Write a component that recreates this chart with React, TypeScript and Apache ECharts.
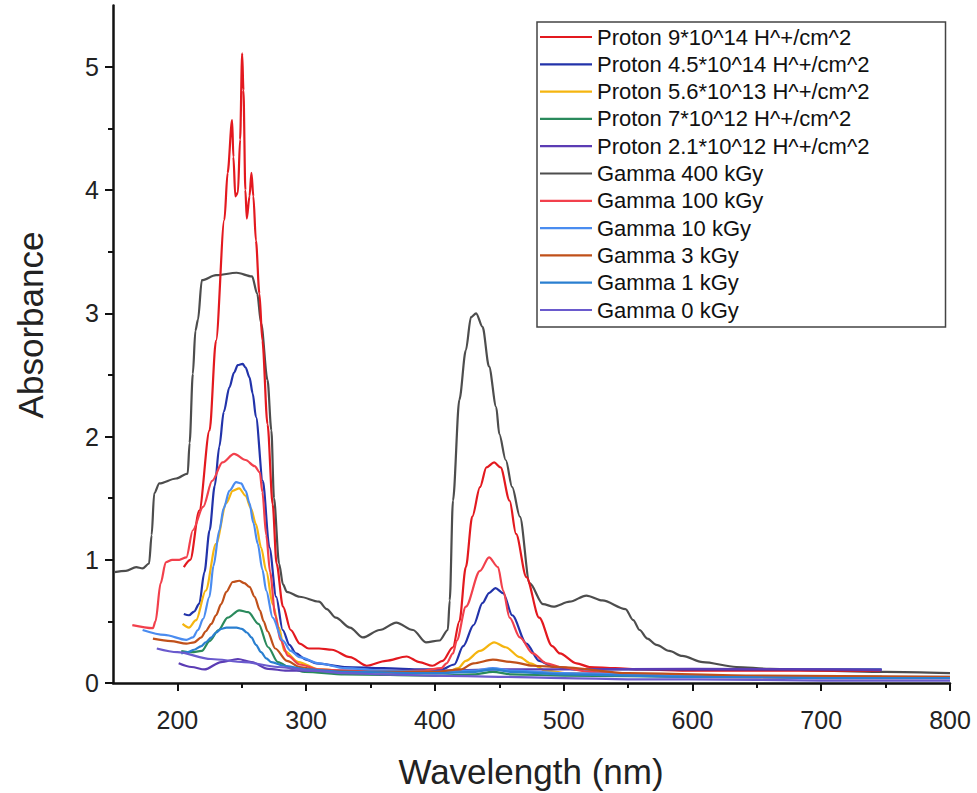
import React, { useEffect, useRef } from "react";
import * as echarts from "echarts";

// ---- Data (wavelength nm / absorbance) ----
const p914X = [205, 210, 217, 225, 230, 236.5, 239, 242.5, 243.5, 245, 247, 248.7, 250.3, 251.3, 252.8, 253.9, 256, 257.5, 259, 261, 263.7, 266, 270, 274, 277, 282, 288, 295, 302, 310, 320, 334, 347, 362, 378, 388, 398, 406, 414, 419, 424, 429, 435, 440, 446, 451, 458, 463, 471, 481, 491, 497, 510, 520, 540, 560, 600, 650, 700, 746];
const p914Y = [0.94, 1.0, 1.4, 2.05, 2.78, 3.76, 4.14, 4.57, 4.27, 3.95, 3.98, 4.41, 5.11, 4.81, 4.0, 3.77, 3.95, 4.14, 3.95, 3.59, 3.16, 2.78, 2.1, 1.45, 0.97, 0.62, 0.43, 0.32, 0.28, 0.28, 0.27, 0.21, 0.14, 0.18, 0.215, 0.17, 0.14, 0.18, 0.29, 0.5, 0.94, 1.35, 1.59, 1.75, 1.79, 1.75, 1.48, 1.21, 0.86, 0.53, 0.3, 0.24, 0.16, 0.13, 0.12, 0.11, 0.1, 0.1, 0.1, 0.1];

const p4514X = [205, 209, 213, 217, 221, 225, 229, 232.6, 236, 240.4, 244, 246.9, 250.7, 253, 256, 258.5, 261, 266.3, 271.5, 276.7, 281.8, 287, 292, 300, 308, 330, 360, 390, 405, 415, 422, 430, 437, 442, 447, 453, 460, 471, 481, 492, 510, 550, 650, 747];
const p4514Y = [0.56, 0.55, 0.58, 0.645, 0.9, 1.24, 1.6, 1.92, 2.2, 2.4, 2.52, 2.58, 2.59, 2.56, 2.48, 2.35, 2.16, 1.64, 1.1, 0.7, 0.43, 0.31, 0.24, 0.19, 0.16, 0.13, 0.12, 0.11, 0.11, 0.15, 0.3, 0.47, 0.65, 0.73, 0.77, 0.73, 0.55, 0.32, 0.18, 0.13, 0.11, 0.11, 0.11, 0.11];

const p5613X = [204, 209, 214.5, 222, 230, 238, 243, 248, 253, 257, 261, 265, 269, 274, 279, 283, 294, 310, 340, 380, 410, 418, 424, 435, 446, 455, 466, 474, 486.5, 502, 550, 650, 747];
const p5613Y = [0.48, 0.45, 0.51, 0.75, 1.13, 1.46, 1.56, 1.58, 1.52, 1.42, 1.29, 1.1, 0.91, 0.64, 0.45, 0.26, 0.17, 0.11, 0.09, 0.08, 0.09, 0.12, 0.18, 0.26, 0.33, 0.29, 0.21, 0.16, 0.1, 0.08, 0.06, 0.05, 0.05];

const p712X = [203, 211, 219, 225, 232, 239, 248, 255, 263, 270.5, 278, 289, 299, 330, 400, 430, 445, 460, 500, 600, 747];
const p712Y = [0.26, 0.25, 0.26, 0.34, 0.43, 0.53, 0.59, 0.575, 0.48, 0.29, 0.17, 0.115, 0.09, 0.07, 0.06, 0.07, 0.09, 0.07, 0.06, 0.05, 0.05];

const p2112X = [201, 211, 221, 234, 247, 257.5, 270.5, 285, 300, 350, 400, 450, 500, 600, 700, 747];
const p2112Y = [0.16, 0.13, 0.11, 0.17, 0.195, 0.17, 0.115, 0.1, 0.1, 0.1, 0.1, 0.11, 0.11, 0.115, 0.11, 0.105];

const g400X = [151, 160, 168, 173, 178, 180, 182, 186, 199, 208, 209.5, 212, 214, 216, 219, 230, 246, 258, 262, 265, 270, 273, 275, 279, 282, 285, 295, 310, 316, 323, 334, 344, 357, 370, 383, 393, 403.6, 410, 411.5, 414, 419, 424, 428, 432, 437, 442, 447.6, 450, 455, 460, 466, 473.5, 484, 492, 504.6, 517.6, 530, 548, 554, 559, 565, 572, 582, 592, 608, 634, 660, 700, 750, 800];
const g400Y = [0.9, 0.91, 0.94, 0.93, 0.97, 1.2, 1.54, 1.62, 1.66, 1.7, 1.95, 2.51, 2.86, 2.95, 3.27, 3.31, 3.33, 3.3, 3.16, 2.92, 2.46, 2.05, 1.5, 0.97, 0.8, 0.74, 0.7, 0.66, 0.6, 0.53, 0.45, 0.37, 0.43, 0.49, 0.43, 0.33, 0.345, 0.43, 0.67, 1.48, 2.3, 2.7, 2.97, 3.0, 2.89, 2.57, 2.24, 2.02, 1.81, 1.59, 1.35, 0.81, 0.64, 0.62, 0.66, 0.71, 0.67, 0.6, 0.51, 0.43, 0.36, 0.31, 0.26, 0.22, 0.17, 0.13, 0.115, 0.1, 0.09, 0.08];

const g100X = [165, 181, 183, 187, 191, 196, 201.5, 207, 212, 220, 227, 235, 244, 253, 260, 264, 266, 269, 272, 276, 280, 286, 295, 310, 330, 360, 390, 405, 409, 414, 417, 424, 435, 442, 449, 453, 458, 466, 476, 486.5, 497, 520, 560, 600, 700, 800];
const g100Y = [0.47, 0.445, 0.5, 0.81, 0.98, 1.0, 1.0, 1.02, 1.24, 1.43, 1.64, 1.79, 1.86, 1.81, 1.76, 1.71, 1.55, 1.2, 0.9, 0.55, 0.35, 0.22, 0.15, 0.11, 0.1, 0.09, 0.1, 0.12, 0.16, 0.24, 0.345, 0.62, 0.91, 1.02, 0.94, 0.75, 0.53, 0.37, 0.24, 0.16, 0.13, 0.09, 0.06, 0.05, 0.04, 0.04];

const g10X = [173, 190, 207, 212, 216, 220, 224.9, 228, 232.6, 236, 240.4, 245.6, 249.5, 253, 256, 259, 262.4, 266, 269, 274, 281.8, 288, 294.8, 310, 330, 360, 400, 430, 445, 460, 500, 600, 700, 800];
const g10Y = [0.43, 0.39, 0.35, 0.37, 0.43, 0.52, 0.7, 0.95, 1.24, 1.42, 1.56, 1.63, 1.62, 1.56, 1.46, 1.3, 1.13, 0.92, 0.75, 0.53, 0.345, 0.26, 0.21, 0.16, 0.12, 0.1, 0.09, 0.1, 0.12, 0.1, 0.08, 0.06, 0.05, 0.05];

const g3X = [181, 195, 207, 213, 218.6, 222, 226.4, 230, 234, 238, 243, 248, 252, 256, 260, 264, 267, 270, 276, 285, 295, 310, 350, 400, 420, 430, 445, 460, 476, 497, 550, 650, 800];
const g3Y = [0.36, 0.34, 0.32, 0.33, 0.37, 0.42, 0.48, 0.55, 0.64, 0.74, 0.82, 0.83, 0.81, 0.78, 0.7, 0.59, 0.5, 0.42, 0.28, 0.18, 0.13, 0.1, 0.09, 0.09, 0.11, 0.16, 0.19, 0.17, 0.14, 0.13, 0.08, 0.06, 0.05];

const g1X = [203, 208, 213, 218.6, 222, 226.4, 230, 234, 238, 242, 246, 250, 254, 257.5, 261, 265, 269, 273, 283, 300, 330, 400, 430, 445, 460, 500, 600, 700, 800];
const g1Y = [0.24, 0.25, 0.27, 0.3, 0.33, 0.37, 0.41, 0.44, 0.45, 0.45, 0.45, 0.44, 0.41, 0.37, 0.31, 0.25, 0.2, 0.17, 0.14, 0.11, 0.09, 0.08, 0.09, 0.11, 0.09, 0.07, 0.05, 0.04, 0.04];

const g0X = [184, 200, 226, 252, 278, 304, 330, 360, 400, 450, 500, 550, 600, 700, 800];
const g0Y = [0.28, 0.25, 0.195, 0.17, 0.13, 0.1, 0.08, 0.07, 0.06, 0.05, 0.04, 0.03, 0.03, 0.02, 0.02];

const seriesNames = [
  "Proton 9*10^14 H^+/cm^2",
  "Proton 4.5*10^14 H^+/cm^2",
  "Proton 5.6*10^13 H^+/cm^2",
  "Proton 7*10^12 H^+/cm^2",
  "Proton 2.1*10^12 H^+/cm^2",
  "Gamma 400 kGy",
  "Gamma 100 kGy",
  "Gamma 10 kGy",
  "Gamma 3 kGy",
  "Gamma 1 kGy",
  "Gamma 0 kGy",
];
const seriesX = [p914X, p4514X, p5613X, p712X, p2112X, g400X, g100X, g10X, g3X, g1X, g0X];
const seriesY = [p914Y, p4514Y, p5613Y, p712Y, p2112Y, g400Y, g100Y, g10Y, g3Y, g1Y, g0Y];
const seriesColors = ["#e3191f", "#2233aa", "#f5b50f", "#2a8a5c", "#5b3cb4", "#4d4d4d", "#f2404c", "#4a8cf0", "#c0501a", "#2a7fd0", "#6a5acd"];

const FONT = "Liberation Sans, Arial, sans-serif";

export default function App() {
  const ref = useRef<HTMLDivElement>(null);
  useEffect(() => {
    if (!ref.current) return;
    const chart = echarts.init(ref.current, undefined, { renderer: "svg" });
    const series: any[] = seriesNames.map((name, i) => ({
      type: "line",
      name,
      xAxisIndex: 0,
      yAxisIndex: 0,
      data: seriesX[i].map((x, j) => [x, seriesY[i][j]]),
      symbol: "none",
      smooth: 0.3,
      smoothMonotone: "x",
      lineStyle: { color: seriesColors[i], width: 2.2 },
      itemStyle: { color: seriesColors[i] },
      z: i === 5 ? 1 : 2,
    }));
    const L = 113, R = 27, T = 5.4, B = 110;
    const pxPerNm = (977 - L - R) / 650;
    const unit = (793 - T - B) / 5.5;
    const tickLine = { color: "#111", width: 2 };
    chart.setOption({
      animation: false,
      backgroundColor: "#fff",
      grid: [
        { left: L, right: R, top: T, bottom: B },
        { left: L + 50 * pxPerNm, right: R, top: T + 0.5 * unit, bottom: B },
      ],
      xAxis: [
        {
          type: "value", gridIndex: 0, min: 150, max: 800,
          axisLine: { show: true, lineStyle: { color: "#111", width: 2.5 } },
          axisTick: { show: false }, axisLabel: { show: false }, splitLine: { show: false },
        },
        {
          type: "value", gridIndex: 1, min: 200, max: 800, interval: 100,
          axisLine: { show: false },
          axisTick: { show: true, length: 8, lineStyle: tickLine },
          minorTick: { show: true, splitNumber: 2, length: 5, lineStyle: tickLine },
          axisLabel: { fontSize: 25, color: "#222", margin: 24, fontFamily: FONT },
          splitLine: { show: false },
        },
      ],
      yAxis: [
        {
          type: "value", gridIndex: 0, min: 0, max: 5.5,
          axisLine: { show: true, lineStyle: { color: "#111", width: 2.5 } },
          axisTick: { show: false }, axisLabel: { show: false }, splitLine: { show: false },
        },
        {
          type: "value", gridIndex: 1, min: 0, max: 5, interval: 1, position: "left",
          offset: 50 * pxPerNm,
          axisLine: { show: false },
          axisTick: { show: true, length: 8, lineStyle: tickLine },
          minorTick: { show: true, splitNumber: 2, length: 5, lineStyle: tickLine },
          axisLabel: { fontSize: 25, color: "#222", margin: 14, fontFamily: FONT },
          splitLine: { show: false },
        },
      ],
      legend: {
        orient: "vertical",
        left: 537,
        top: 22,
        data: seriesNames.map((n) => ({ name: n, icon: "rect" })),
        selectedMode: false,
        itemWidth: 52,
        itemHeight: 2.2,
        itemGap: 5.3,
        padding: [4, 76, 6, 3],
        borderColor: "#444",
        borderWidth: 1.5,
        textStyle: { fontSize: 22, lineHeight: 22, color: "#111", fontFamily: FONT },
      },
      graphic: [
        {
          type: "text", x: 531, y: 771,
          style: { text: "Wavelength (nm)", fontSize: 35, fontFamily: FONT, fill: "#222", textAlign: "center", textVerticalAlign: "middle" },
        },
        {
          type: "text", x: 30, y: 325, rotation: Math.PI / 2,
          style: { text: "Absorbance", fontSize: 35, fontFamily: FONT, fill: "#222", textAlign: "center", textVerticalAlign: "middle" },
        },
      ],
      series,
    });
    return () => chart.dispose();
  }, []);
  return <div ref={ref} style={{ position: "fixed", left: 0, top: 0, width: 977, height: 793 }} />;
}
